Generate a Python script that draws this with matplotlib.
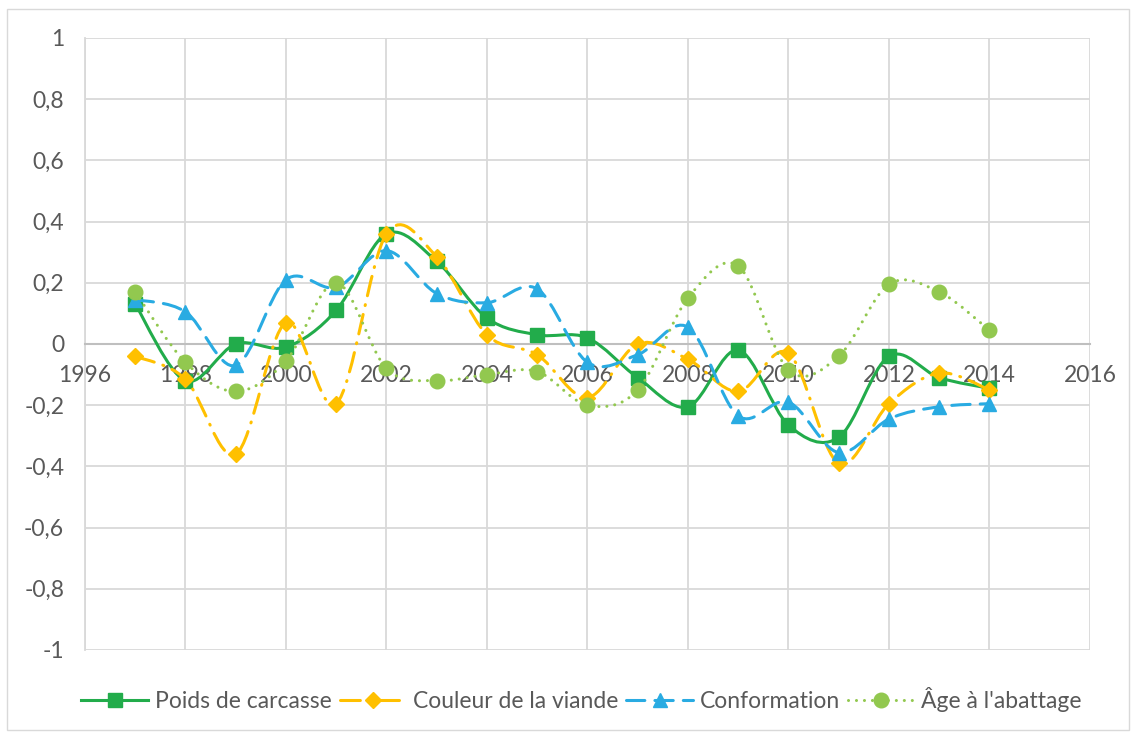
import matplotlib
matplotlib.use("Agg")
import matplotlib.pyplot as plt
from matplotlib.path import Path
from matplotlib.patches import PathPatch
from matplotlib.lines import Line2D
from matplotlib.ticker import FuncFormatter, MultipleLocator
import numpy as np

plt.rcParams["font.family"] = ["Lato", "DejaVu Sans"]

years = list(range(1997, 2015))
poids = [0.13, -0.12, 0.00, -0.01, 0.11, 0.36, 0.27, 0.085, 0.03, 0.02,
         -0.11, -0.205, -0.02, -0.265, -0.305, -0.04, -0.11, -0.145]
couleur = [-0.04, -0.115, -0.36, 0.07, -0.195, 0.36, 0.285, 0.03, -0.035, -0.175,
           0.0, -0.05, -0.155, -0.03, -0.39, -0.195, -0.095, -0.15]
conformation = [0.145, 0.105, -0.07, 0.21, 0.185, 0.305, 0.165, 0.135, 0.18, -0.06,
                -0.035, 0.055, -0.235, -0.19, -0.355, -0.245, -0.205, -0.195]
age = [0.17, -0.06, -0.155, -0.055, 0.20, -0.08, -0.12, -0.10, -0.09, -0.20,
       -0.15, 0.15, 0.255, -0.085, -0.04, 0.195, 0.17, 0.045]

labels = ["Poids de carcasse", "Couleur de la viande", "Conformation", "Âge à l'abattage"]

GRID = "#d9d9d9"
TXT = "#595959"


def smooth_path(x, y):
    """Bezier path through the points, like Excel's smoothed line."""
    p = np.c_[x, y].astype(float)
    n = len(p)
    verts = [p[0]]
    codes = [Path.MOVETO]
    for i in range(n - 1):
        p0 = p[max(i - 1, 0)]
        p1, p2 = p[i], p[i + 1]
        p3 = p[min(i + 2, n - 1)]
        c1 = p1 + (p2 - p0) / 6.0
        c2 = p2 - (p3 - p1) / 6.0
        verts += [c1, c2, p2]
        codes += [Path.CURVE4] * 3
    return Path(verts, codes)


fig = plt.figure(figsize=(11.36, 7.34), dpi=100)
ax = fig.add_axes([85 / 1136, 84 / 734, 1005 / 1136, 612 / 734])

styles = [
    dict(color="#22ac4b", ls="-", marker="s", ms=10),
    dict(color="#ffc000", ls=(0, (6.5, 3, 0.3, 3)), marker="D", ms=8.5),
    dict(color="#29abe2", ls=(0, (6, 3.3)), marker="^", ms=10.5),
    dict(color="#92c84f", ls=(0, (0.01, 2.6)), marker="o", ms=10.5),
]
series = [poids, couleur, conformation, age]

handles = []
for k, (vals, st) in enumerate(zip(series, styles)):
    patch = PathPatch(smooth_path(years, vals), fill=False, edgecolor=st["color"],
                      lw=2.2, linestyle=st["ls"], capstyle="round", zorder=3 + k)
    ax.add_patch(patch)
    ax.plot(years, vals, ls="none", marker=st["marker"], ms=st["ms"],
            color=st["color"], mec=st["color"], zorder=3 + k)
    handles.append(Line2D([], [], color=st["color"], lw=2.2, ls=st["ls"],
                          marker=st["marker"], ms=st["ms"], dash_capstyle="round"))

ax.set_xlim(1996, 2016)
ax.set_ylim(-1, 1)
ax.xaxis.set_major_locator(MultipleLocator(2))
ax.yaxis.set_major_locator(MultipleLocator(0.2))
ax.yaxis.set_major_formatter(FuncFormatter(
    lambda v, _: "0" if abs(v) < 1e-9 else ("%g" % round(v, 1)).replace(".", ",")))
ax.grid(True, color=GRID, lw=1.3)
ax.set_axisbelow(True)

for s in ("top", "right"):
    ax.spines[s].set_visible(False)
ax.spines["left"].set_color(GRID)
ax.spines["left"].set_linewidth(1.3)
ax.spines["bottom"].set_position(("data", 0))
ax.spines["bottom"].set_color("#bfbfbf")
ax.spines["bottom"].set_linewidth(1.5)
ax.tick_params(length=0, labelcolor=TXT, labelsize=16.5)
ax.tick_params(axis="y", pad=15)
ax.tick_params(axis="x", pad=15)

fig.legend(handles, labels, loc="center", bbox_to_anchor=(0.512, 1 - 700 / 734),
           ncol=4, frameon=False, fontsize=16.5, labelcolor=TXT, handlelength=2.9,
           columnspacing=0.35, handletextpad=0.3)

border = plt.Rectangle((7 / 1136, 4 / 734), 1122 / 1136, 721 / 734, fill=False,
                       edgecolor=GRID, lw=1, transform=fig.transFigure)
fig.patches.append(border)

fig.savefig("out.png", dpi=100)
